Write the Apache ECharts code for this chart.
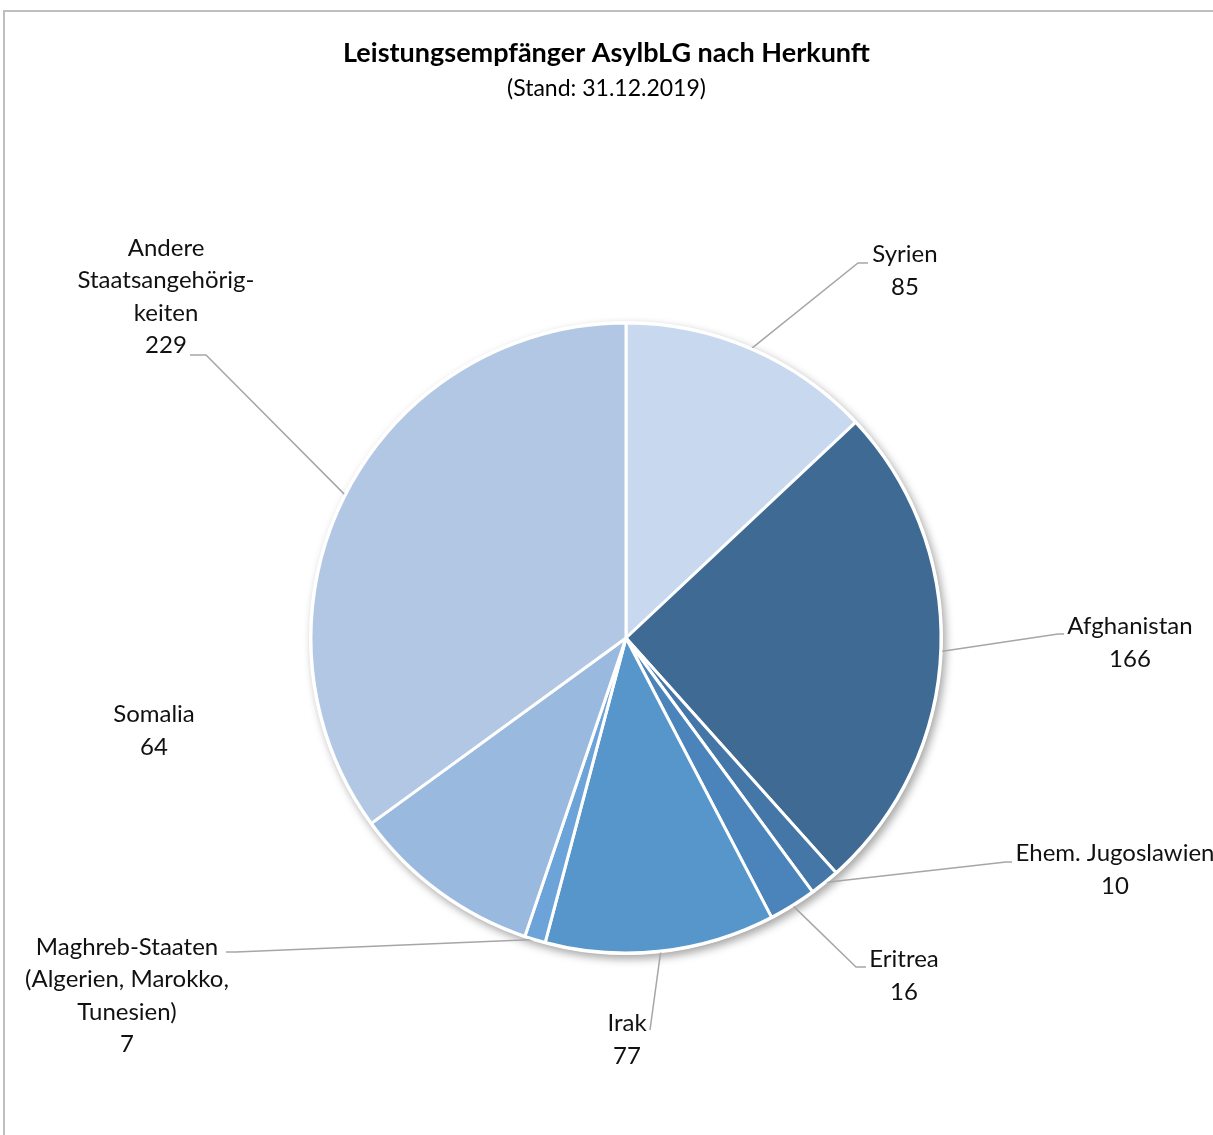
<!DOCTYPE html>
<html>
<head>
<meta charset="utf-8">
<script src="https://cdn.jsdelivr.net/npm/echarts@6/dist/echarts.min.js"></script>
<style>
html,body{margin:0;padding:0;background:#fff;overflow:hidden;}
#chart{width:1213px;height:1135px;}
</style>
</head>
<body>
<div id="chart"></div>
<script>
// ---- data ----
const categories = ['Syrien', 'Afghanistan', 'Ehem. Jugoslawien', 'Eritrea', 'Irak',
  'Maghreb-Staaten\n(Algerien, Marokko,\nTunesien)', 'Somalia', 'Andere\nStaatsangehörig-\nkeiten'];
const values = [85, 166, 10, 16, 77, 7, 64, 229];
const titleText = 'Leistungsempfänger AsylbLG nach Herkunft';
const subTitleText = '(Stand: 31.12.2019)';

// ---- styles / layout (not data) ----
const colors = ['#C8D8EE', '#3E6A94', '#4476A7', '#4A84BA', '#5796CB', '#6CA3D8', '#9AB9DF', '#B2C7E4'];
// label centre positions [x, y]
const labelPos = [[905, 271], [1130, 643], [1115, 870], [904, 976], [627, 1040], [127, 996], [154, 731], [166, 297]];
// leader knee / end points (null = no leader line)
const leader = [
  [[858, 263], [868, 263]],
  [[1058, 634], [1064, 634]],
  [[1006, 862], [1012, 862]],
  [[856, 967], [866, 967]],
  [[650, 1030], [650, 1030]],
  [[236, 952], [226, 952]],
  null,
  [[206, 355], [190, 355]]
];

const total = values.reduce((a, b) => a + b, 0);
const chart = echarts.init(document.getElementById('chart'), null, {renderer: 'canvas'});
const FONT = 'Lato, "Open Sans", sans-serif';

const option = {
  animation: false,
  title: {
    text: titleText,
    subtext: subTitleText,
    left: 'center',
    top: 35,
    itemGap: 10,
    textStyle: {fontFamily: FONT, fontSize: 27, fontWeight: 'bold', color: '#000'},
    subtextStyle: {fontFamily: FONT, fontSize: 23, color: '#000'}
  },
  graphic: [{
    type: 'rect',
    shape: {x: 4, y: 11, width: 1400, height: 1400},
    style: {fill: 'none', stroke: '#BFBFBF', lineWidth: 2},
    silent: true
  }],
  series: [
    {
      type: 'pie',
      silent: true,
      center: [626, 638],
      radius: 317,
      z: 1,
      label: {show: false},
      labelLine: {show: false},
      itemStyle: {color: '#fff', shadowBlur: 9, shadowOffsetX: 3, shadowOffsetY: 4, shadowColor: 'rgba(0,0,0,0.35)'},
      data: [{value: total, name: ''}]
    },
    {
      type: 'pie',
      center: [626, 638],
      radius: 315,
      startAngle: 90,
      clockwise: true,
      z: 2,
      avoidLabelOverlap: false,
      itemStyle: {borderColor: '#fff', borderWidth: 3},
      label: {
        show: true,
        position: 'outside',
        formatter: p => p.name + '\n' + p.value,
        fontFamily: FONT,
        fontSize: 24,
        lineHeight: 32.5,
        color: '#111',
        align: 'center'
      },
      labelLine: {show: true, lineStyle: {color: '#A6A6A6', width: 1.5}},
      labelLayout: function (params) {
        const i = params.dataIndex;
        const res = {x: labelPos[i][0], y: labelPos[i][1], align: 'center', verticalAlign: 'middle'};
        if (leader[i] && params.labelLinePoints && params.labelLinePoints.length) {
          res.labelLinePoints = [params.labelLinePoints[0], leader[i][0], leader[i][1]];
        }
        return res;
      },
      data: categories.map((c, i) => ({
        name: c,
        value: values[i],
        itemStyle: {color: colors[i]},
        labelLine: {show: leader[i] !== null}
      }))
    }
  ]
};
chart.setOption(option);
</script>
</body>
</html>
